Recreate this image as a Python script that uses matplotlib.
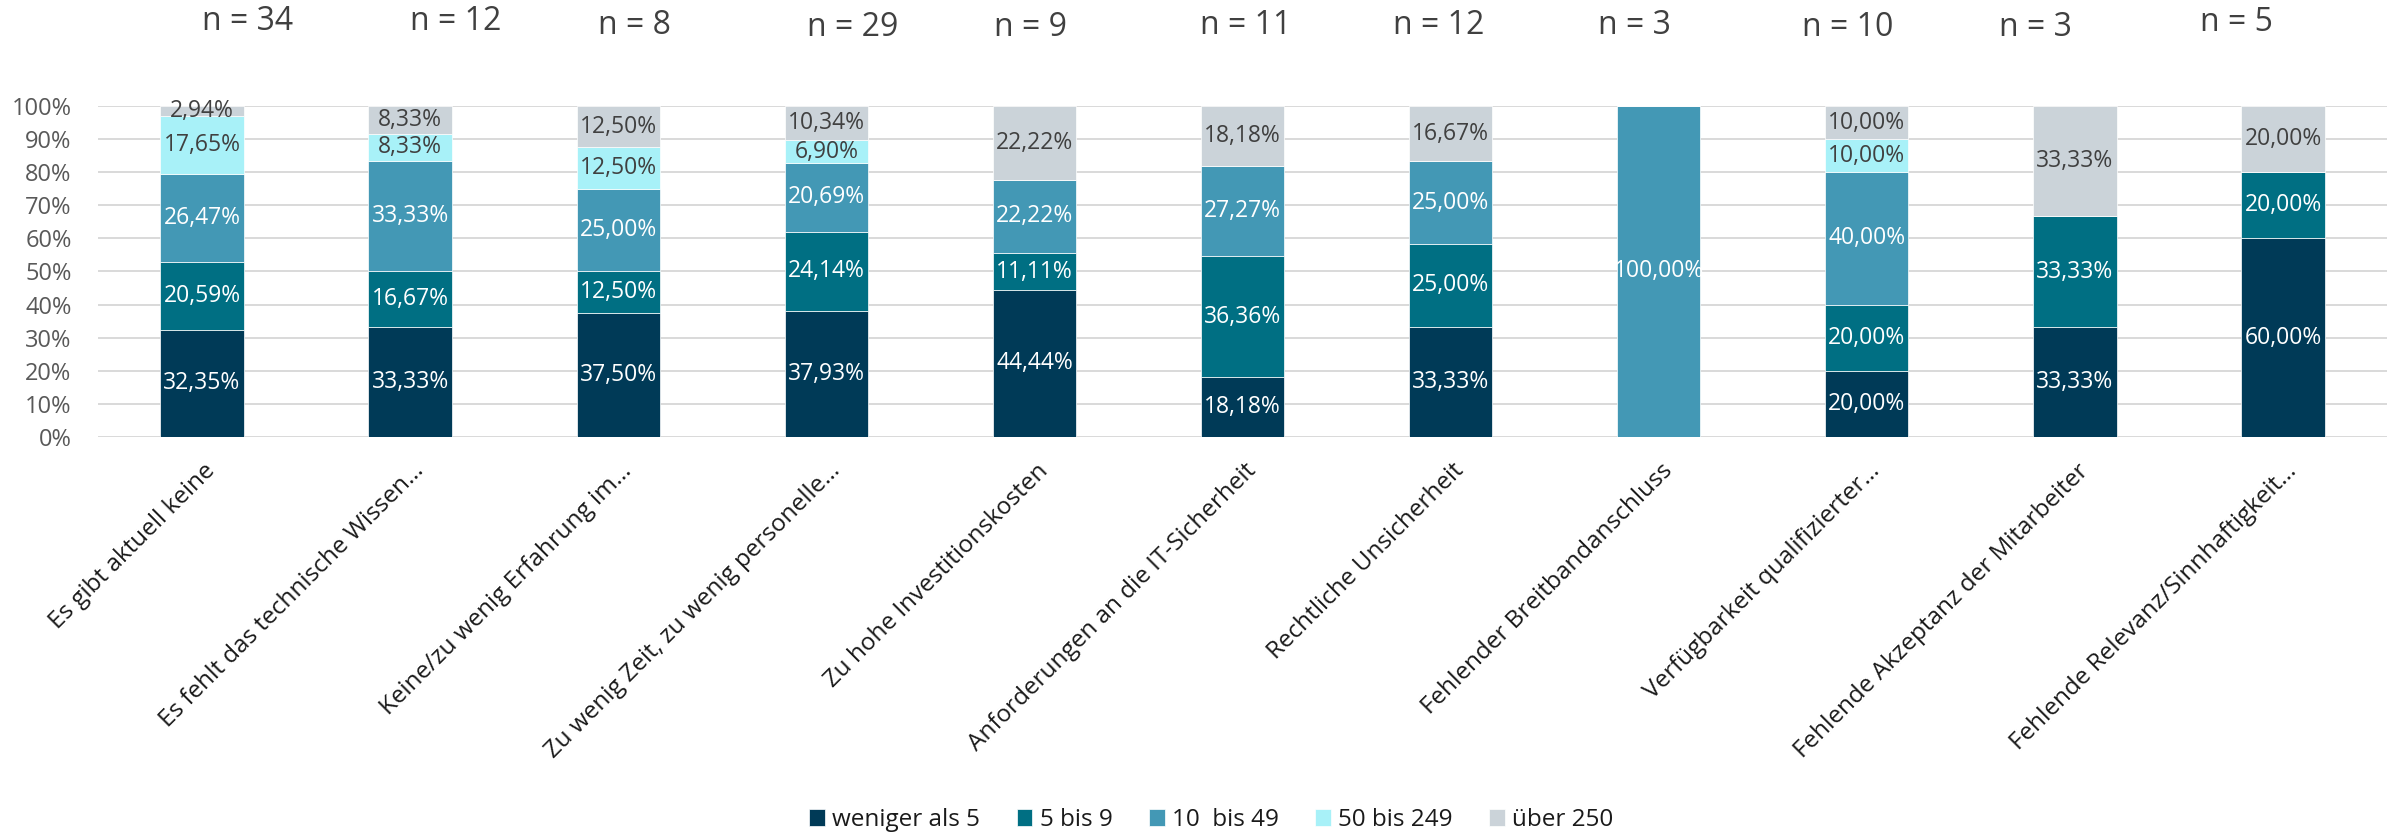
import matplotlib
matplotlib.use("Agg")
import matplotlib.pyplot as plt
import matplotlib.transforms as mtransforms
import numpy as np

plt.rcParams["font.family"] = ["Open Sans", "DejaVu Sans"]

categories = [
    "Es gibt aktuell keine",
    "Es fehlt das technische Wissen…",
    "Keine/zu wenig Erfahrung im…",
    "Zu wenig Zeit, zu wenig personelle…",
    "Zu hohe Investitionskosten",
    "Anforderungen an die IT-Sicherheit",
    "Rechtliche Unsicherheit",
    "Fehlender Breitbandanschluss",
    "Verfügbarkeit qualifizierter…",
    "Fehlende Akzeptanz der Mitarbeiter",
    "Fehlende Relevanz/Sinnhaftigkeit…",
]
sample_sizes = [34, 12, 8, 29, 9, 11, 12, 3, 10, 3, 5]

series_names = ["weniger als 5", "5 bis 9", "10  bis 49", "50 bis 249", "über 250"]
weniger_als_5 = [32.35, 33.33, 37.50, 37.93, 44.44, 18.18, 33.33, 0, 20.00, 33.33, 60.00]
bis_9 = [20.59, 16.67, 12.50, 24.14, 11.11, 36.36, 25.00, 0, 20.00, 33.33, 20.00]
bis_49 = [26.47, 33.33, 25.00, 20.69, 22.22, 27.27, 25.00, 100.00, 40.00, 0, 0]
bis_249 = [17.65, 8.33, 12.50, 6.90, 0, 0, 0, 0, 10.00, 0, 0]
ueber_250 = [2.94, 8.33, 12.50, 10.34, 22.22, 18.18, 16.67, 0, 10.00, 33.33, 20.00]

series_values = [weniger_als_5, bis_9, bis_49, bis_249, ueber_250]
colors = ["#003A57", "#006F83", "#4398B5", "#A8F1F8", "#CBD3D9"]
label_colors = ["white", "white", "white", "#404040", "#404040"]

# hand-placed offsets (pixels) of the "n = .." boxes relative to the bar tops
n_dx_px = [46, 46, 16, 26, -4, 3, -12, -24, -19, -40, -47]
n_dy_px = [85, 85, 81, 79, 79, 81, 81, 81, 79, 79, 84]

fig = plt.figure(figsize=(23.95, 8.36), dpi=100)
ax = fig.add_axes([0.0409, 0.4773, 0.9558, 0.3959])

x = np.arange(len(categories))
bottom = np.zeros(len(categories))
for name, vals, col, lcol in zip(series_names, series_values, colors, label_colors):
    vals = np.array(vals, dtype=float)
    ax.bar(x, vals, width=0.4, bottom=bottom, color=col, label=name,
           edgecolor="white", linewidth=0.5, zorder=3)
    for xi, b, v in zip(x, bottom, vals):
        if v > 0:
            ax.text(xi, b + v / 2, f"{v:.2f}%".replace(".", ","), ha="center",
                    va="center", fontsize=16.5, color=lcol, zorder=4)
    bottom += vals

for xi, n, dx, dy in zip(x, sample_sizes, n_dx_px, n_dy_px):
    ax.annotate(f"n = {n}", xy=(xi, 100), xycoords="data",
                xytext=(dx / 1.389, dy / 1.389), textcoords="offset points",
                ha="center", va="center", fontsize=23, color="#404040",
                annotation_clip=False)

ax.set_xlim(-0.5, 10.5)
ax.set_ylim(0, 100)
ax.set_yticks(np.arange(0, 101, 10))
ax.set_yticklabels([f"{v}%" for v in range(0, 101, 10)], fontsize=17, color="#595959")
ax.yaxis.grid(True, color="#D9D9D9", linewidth=1.4, zorder=0)
ax.set_axisbelow(True)
for s in ax.spines.values():
    s.set_visible(False)
ax.tick_params(axis="y", length=0, pad=19)
ax.tick_params(axis="x", length=0, pad=22)

ax.set_xticks(x)
ax.set_xticklabels(categories, rotation=45, ha="right", va="center",
                   rotation_mode="anchor", fontsize=17.5, color="#1A1A1A")
shift = mtransforms.ScaledTranslation(10 / 100, 0, fig.dpi_scale_trans)
for lbl in ax.get_xticklabels():
    lbl.set_transform(lbl.get_transform() + shift)

leg = fig.legend(loc="center", bbox_to_anchor=(0.5058, 0.019), ncol=5,
                 frameon=False, fontsize=17.5, handlelength=0.65, handleheight=0.65,
                 handletextpad=0.3, columnspacing=1.5)
for t in leg.get_texts():
    t.set_color("#1A1A1A")

fig.savefig("out.png", dpi=100)
